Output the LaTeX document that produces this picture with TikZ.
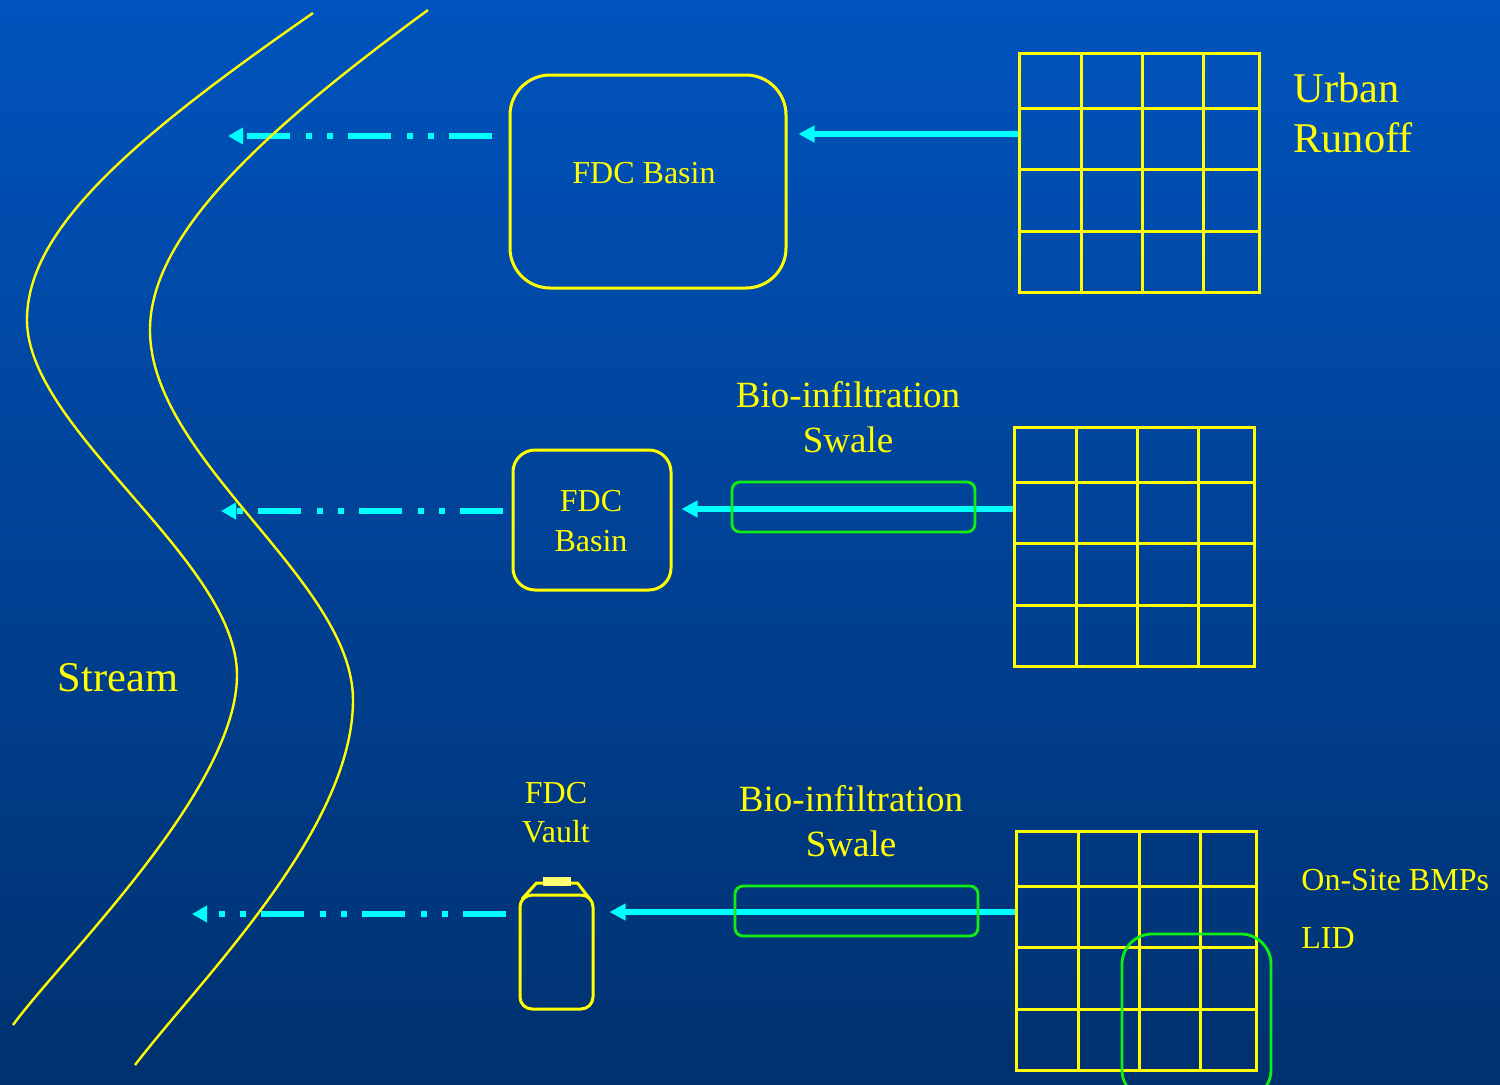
\documentclass[tikz,border=0pt]{standalone}
\usepackage{fontspec}
\setmainfont{Liberation Serif}
\usetikzlibrary{arrows.meta}
\definecolor{bgtop}{HTML}{0053BD}
\definecolor{bgbot}{HTML}{00316F}
\definecolor{ylw}{HTML}{FFFF00}
\definecolor{cyn}{HTML}{00FFFF}
\definecolor{grn}{HTML}{11EE11}
\definecolor{capy}{HTML}{FFFF70}
\begin{document}
\begin{tikzpicture}[x=0.5pt,y=-0.5pt,
  ybox/.style={draw=ylw, line width=1.5pt, inner sep=0pt},
  gbox/.style={draw=grn, line width=1.4pt, inner sep=0pt, rounded corners=4pt,
     minimum width=121.5pt, minimum height=25pt},
  gridbox/.style={draw=ylw, line width=1.5pt, inner sep=0pt,
     minimum width=120pt, minimum height=119.5pt},
  gridl/.style={draw=ylw, line width=1.5pt},
  streamline/.style={draw=ylw, line width=1.2pt},
  flow/.style={draw=cyn, line width=2.8pt, -{Triangle[length=8pt,width=8pt]}},
  dflow/.style={draw=cyn, line width=2.7pt, -{Triangle[length=7.5pt,width=8pt]},
     dash pattern=on 21.5pt off 7.5pt on 3pt off 7.5pt on 3pt off 8pt},
  lbl/.style={text=ylw, inner sep=0pt, anchor=base},
  lblw/.style={text=ylw, inner sep=0pt, anchor=base west},
  fbig/.style={font=\fontsize{21.2}{25}\selectfont},
  fmid/.style={font=\fontsize{18.5}{22}\selectfont},
  fsml/.style={font=\fontsize{16}{19}\selectfont}
]
% background
\useasboundingbox (0,0) rectangle (1500,1084);
\clip (0,0) rectangle (1500,1084);
\shade[top color=bgtop, bottom color=bgbot] (0,0) rectangle (1500,1084);

% grids
\node[gridbox] (g1) at (1139,172.5) {};
\node[gridbox] (g2) at (1134,546.5) {};
\node[gridbox] (g3) at (1136.5,950.5) {};
\foreach \ox/\oy in {1019/53, 1014/427, 1016.5/831}{
  \foreach \dx in {62,123,184}{
    \draw[gridl] ({\ox+\dx},\oy) -- ({\ox+\dx},{\oy+239});
  }
  \foreach \dy in {55,116.5,178}{
    \draw[gridl] (\ox,{\oy+\dy}) -- ({\ox+240},{\oy+\dy});
  }
}

% LID box
\draw[draw=grn, line width=1.4pt, rounded corners=15pt] (1122,934) rectangle (1271,1100);

% basins
\node[ybox, rounded corners=20pt, minimum width=138pt, minimum height=106.5pt] (b1) at (648,181.5) {};
\node[ybox, rounded corners=11pt, minimum width=79pt, minimum height=70pt] (b2) at (592,520) {};
% vault
\node[ybox, rounded corners=6pt, minimum width=36.5pt, minimum height=57pt] (v) at (556.5,952) {};
\draw[draw=ylw, line width=1.5pt, line join=round] (522,899) -- (536.5,883) -- (577.5,883) -- (589,898);
\fill[capy] (543,877) rectangle (571,885.5);

% coordinates for flows
\coordinate (y1) at (0,134);
\coordinate (y2) at (0,509);
\coordinate (y3) at (0,912);
\coordinate (d1) at (228,136);
\coordinate (d2) at (221,511);
\coordinate (d3) at (192,914);

% solid flows
\draw[flow, shorten >=5.5pt] (g1.west |- y1) -- (b1.east |- y1);
\draw[flow, shorten >=4.5pt] (g2.west |- y2) -- (b2.east |- y2);
\draw[flow, shorten >=7.5pt] (g3.west |- y3) -- (v.east |- y3);

% swales
\node[gbox] (s1) at (853.5,507) {};
\node[gbox] (s2) at (856.5,911) {};

% dashed flows
\draw[dflow, shorten <=8.5pt] (b1.west |- d1) -- (d1);
\draw[dflow, shorten <=4.5pt] (b2.west |- d2) -- (d2);
\draw[dflow, shorten <=6.5pt] (v.west |- d3) -- (d3);

% stream
\draw[streamline] (313,13) .. controls (130,140) and (27,230) .. (27,320)
  .. controls (27,430) and (237,560) .. (237,675)
  .. controls (237,790) and (60,960) .. (13,1025);
\draw[streamline] (428,10) .. controls (250,140) and (150,240) .. (150,330)
  .. controls (150,460) and (353,580) .. (353,700)
  .. controls (353,830) and (200,980) .. (135,1065);

% labels
\node[lblw, fbig] (t-urban) at (1293,102) {Urban};
\node[lblw, fbig] (t-runoff) at (1293,152) {Runoff};
\node[lbl, fbig] (t-stream) at (118,691) {Stream};
\node[lbl, fsml] (t-fdcb1) at (644,183.5) {FDC Basin};
\node[lbl, fsml] (t-fdc2) at (591,511) {FDC};
\node[lbl, fsml] (t-basin2) at (591,551) {Basin};
\node[lbl, fsml] (t-fdc3) at (556,803) {FDC};
\node[lbl, fsml] (t-vault) at (556,842) {Vault};
\node[lbl, fmid] (t-bio1) at (848,407) {Bio-infiltration};
\node[lbl, fmid] (t-swale1) at (848,452) {Swale};
\node[lbl, fmid] (t-bio2) at (851,811) {Bio-infiltration};
\node[lbl, fmid] (t-swale2) at (851,856) {Swale};
\node[lblw, fsml] (t-onsite) at (1301,890.5) {On-Site BMPs};
\node[lblw, fsml] (t-lid) at (1301,948.5) {LID};
\end{tikzpicture}
\end{document}
